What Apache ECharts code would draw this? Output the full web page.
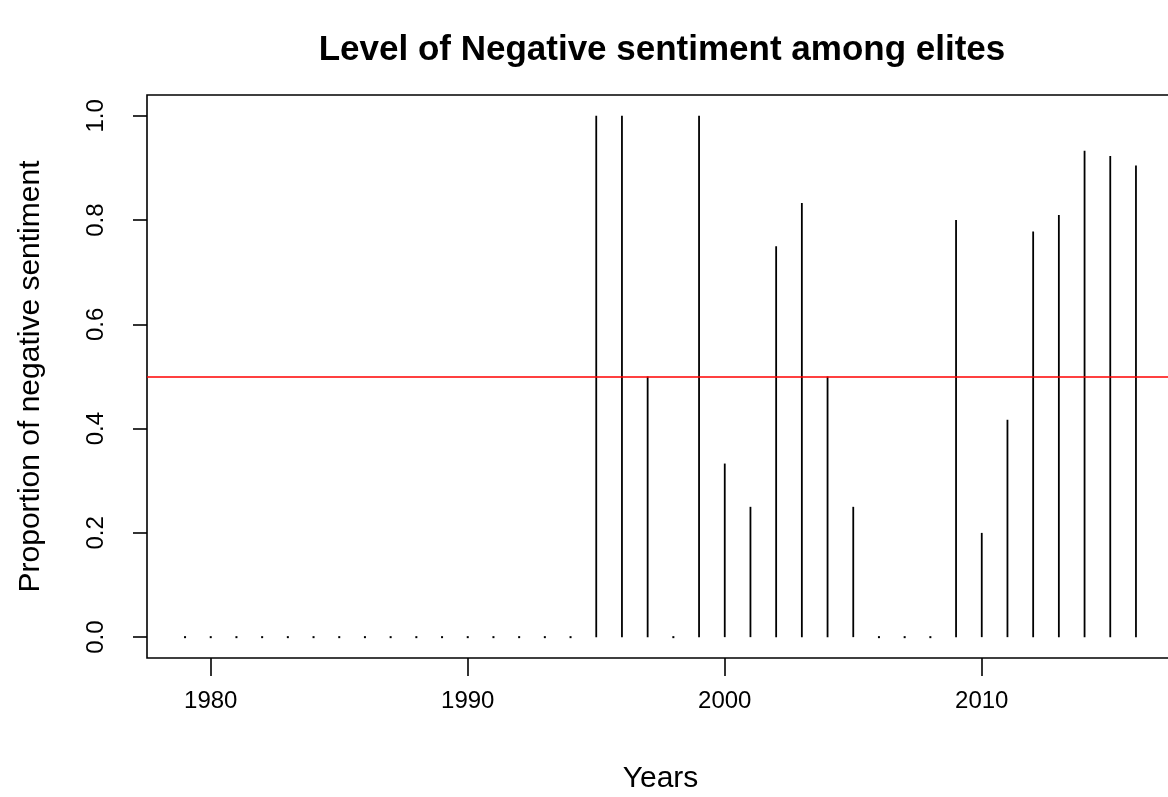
<!DOCTYPE html>
<html>
<head>
<meta charset="utf-8">
<script src="https://cdn.jsdelivr.net/npm/echarts@6/dist/echarts.min.js"></script>
<style>
html,body{margin:0;padding:0;background:#fff;}
#chart{width:1168px;height:797px;}
</style>
</head>
<body>
<div id="chart"></div>
<script>
// ---- data ----
const years = [1979,1980,1981,1982,1983,1984,1985,1986,1987,1988,1989,1990,1991,1992,1993,1994,
               1995,1996,1997,1998,1999,2000,2001,2002,2003,2004,2005,2006,2007,2008,
               2009,2010,2011,2012,2013,2014,2015,2016];
const negShare = [0,0,0,0,0,0,0,0,0,0,0,0,0,0,0,0,
                  1.0,1.0,0.5,0,1.0,0.333,0.25,0.75,0.833,0.5,0.25,0,0,0,
                  0.8,0.2,0.417,0.778,0.81,0.933,0.923,0.905];
const xTicks = [1980,1990,2000,2010];
const yTicks = [0,0.2,0.4,0.6,0.8,1.0];
const threshold = 0.5;
const titleText = 'Level of Negative sentiment among elites';
const xName = 'Years';
const yName = 'Proportion of negative sentiment';

// R-style 4% axis padding
const xr = [Math.min(...years), Math.max(...years)];
const xpad = (xr[1]-xr[0])*0.04;
const ypad = 0.04;

const chart = echarts.init(document.getElementById('chart'));
const FONT = '"Liberation Sans", Arial, Helvetica, sans-serif';
chart.setOption({
  animation:false,
  backgroundColor:'#fff',
  title:{
    text:titleText,
    left:657, top:28, textAlign:'center',
    textStyle:{fontFamily:FONT,fontWeight:'bold',fontSize:35,color:'#000'}
  },
  grid:{left:147, top:95, right:-6, bottom:139, containLabel:false, outerBoundsMode:'none',
        show:true, borderColor:'#000', borderWidth:1.6, backgroundColor:'transparent'},
  xAxis:{
    type:'value', min:xr[0]-xpad, max:xr[1]+xpad,
    name:xName, nameLocation:'middle', nameGap:106,
    nameTextStyle:{fontFamily:FONT,fontSize:30,color:'#000'},
    axisLine:{show:false, onZero:false},
    splitLine:{show:false},
    axisTick:{show:true, inside:false, customValues:xTicks, length:18, lineStyle:{color:'#000',width:1.6}},
    axisLabel:{customValues:xTicks, margin:31, fontFamily:FONT, fontSize:24, color:'#000', formatter:v=>String(v)}
  },
  yAxis:{
    type:'value', min:-ypad, max:1+ypad,
    name:yName, nameLocation:'middle', nameGap:101, nameRotate:90,
    nameTextStyle:{fontFamily:FONT,fontSize:30,color:'#000'},
    axisLine:{show:false, onZero:false},
    splitLine:{show:false},
    axisTick:{show:true, inside:false, customValues:yTicks, length:14, lineStyle:{color:'#000',width:1.6}},
    axisLabel:{customValues:yTicks, rotate:90, margin:39, fontFamily:FONT, fontSize:24, color:'#000', formatter:v=>v.toFixed(1)}
  },
  series:[{
    type:'custom',
    data:years.map((y,i)=>[y,negShare[i]]),
    clip:false,
    renderItem:function(params, api){
      const x = api.value(0), v = api.value(1);
      const p0 = api.coord([x,0]);
      const p1 = api.coord([x,v]);
      if (v === 0) {
        return {type:'rect', shape:{x:p0[0]-1,y:p0[1]-1,width:2,height:2}, style:{fill:'#000'}};
      }
      return {type:'line', shape:{x1:p0[0],y1:p0[1],x2:p1[0],y2:p1[1]}, style:{stroke:'#000', lineWidth:1.8}};
    },
    markLine:{
      silent:true, symbol:'none', label:{show:false},
      lineStyle:{color:'#ff0000', width:1.6, type:'solid'},
      data:[{yAxis:threshold}]
    }
  }]
});
</script>
</body>
</html>
